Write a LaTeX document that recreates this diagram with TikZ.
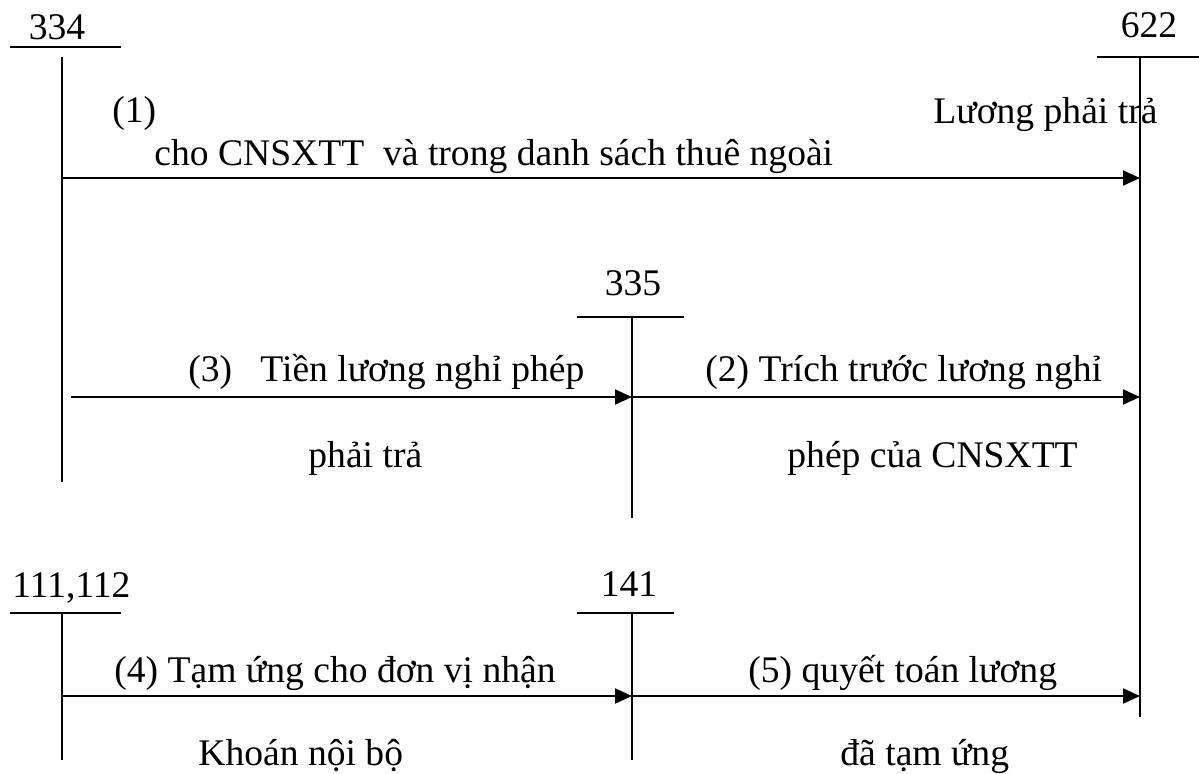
\documentclass[tikz,border=0pt]{standalone}
\usepackage{fontspec}
\setmainfont{Liberation Serif}
\usetikzlibrary{arrows.meta}

\begin{document}
\begin{tikzpicture}[x=0.5pt, y=-0.5pt,
  acct/.style={line width=1pt},
  post/.style={line width=1pt, -{Triangle[length=8.5pt,width=7.5pt]}},
  lbl/.style={inner sep=0pt, font=\fontsize{18.8}{22}\selectfont}]
  \useasboundingbox (0,0) rectangle (1199,773);

  % account names
  \node[lbl, anchor=base] (n334) at (57,39) {334};
  \node[lbl, anchor=base] (n622) at (1149,37) {622};
  \node[lbl, anchor=base] (n335) at (633,295) {335};
  \node[lbl, anchor=base west] (n111) at (12,597) {111,112};
  \node[lbl, anchor=base] (n141) at (629,596) {141};

  % T accounts
  \coordinate (t334) at (62,57);   \coordinate (b334) at (62,482);
  \coordinate (t622) at (1140,57); \coordinate (b622) at (1140,717);
  \coordinate (t335) at (632,317); \coordinate (b335) at (632,518);
  \coordinate (t111) at (62,613);  \coordinate (b111) at (62,760);
  \coordinate (t141) at (632,613); \coordinate (b141) at (632,760);
  \draw[acct] (10,47) -- (121,47);
  \draw[acct] (1097,57) -- (1199,57);
  \draw[acct] (577,317) -- (684,317);
  \draw[acct] (10,613) -- (121,613);
  \draw[acct] (577,613) -- (674,613);
  \draw[acct] (t334) -- (b334);
  \draw[acct] (t622) -- (b622);
  \draw[acct] (t335) -- (b335);
  \draw[acct] (t111) -- (b111);
  \draw[acct] (t141) -- (b141);

  % postings
  \coordinate (s1) at (62,178);  \coordinate (e1) at (1140,178);
  \coordinate (s3) at (71,397);  \coordinate (e3) at (632,397);
  \coordinate (e2) at (1140,397);
  \coordinate (s4) at (62,696);  \coordinate (e4) at (632,696);
  \coordinate (e5) at (1140,696);
  \draw[post] (s1) -- (e1);
  \draw[post] (s3) -- (e3);
  \draw[post] (e3) -- (e2);
  \draw[post] (s4) -- (e4);
  \draw[post] (e4) -- (e5);

  % texts
  \node[lbl, anchor=base west] (l1a) at (112,122) {(1)};
  \node[lbl, anchor=base west] (l1b) at (933,123) {Lương phải trả};
  \node[lbl, anchor=base west] (l1c) at (154,165) {cho CNSXTT\ \ và trong danh sách thuê ngoài};
  \node[lbl, anchor=base west] (l3a) at (188,381) {(3)\ \ \ Tiền lương nghỉ phép};
  \node[lbl, anchor=base west] (l3b) at (308,467) {phải trả};
  \node[lbl, anchor=base west] (l2a) at (705,381) {(2) Trích trước lương nghỉ};
  \node[lbl, anchor=base west] (l2b) at (787,467) {phép của CNSXTT};
  \node[lbl, anchor=base west] (l4a) at (114,682) {(4) Tạm ứng cho đơn vị nhận};
  \node[lbl, anchor=base west] (l4b) at (198,765) {Khoán nội bộ};
  \node[lbl, anchor=base west] (l5a) at (748,682) {(5) quyết toán lương};
  \node[lbl, anchor=base west] (l5b) at (840,765) {đã tạm ứng};
\end{tikzpicture}
\end{document}
